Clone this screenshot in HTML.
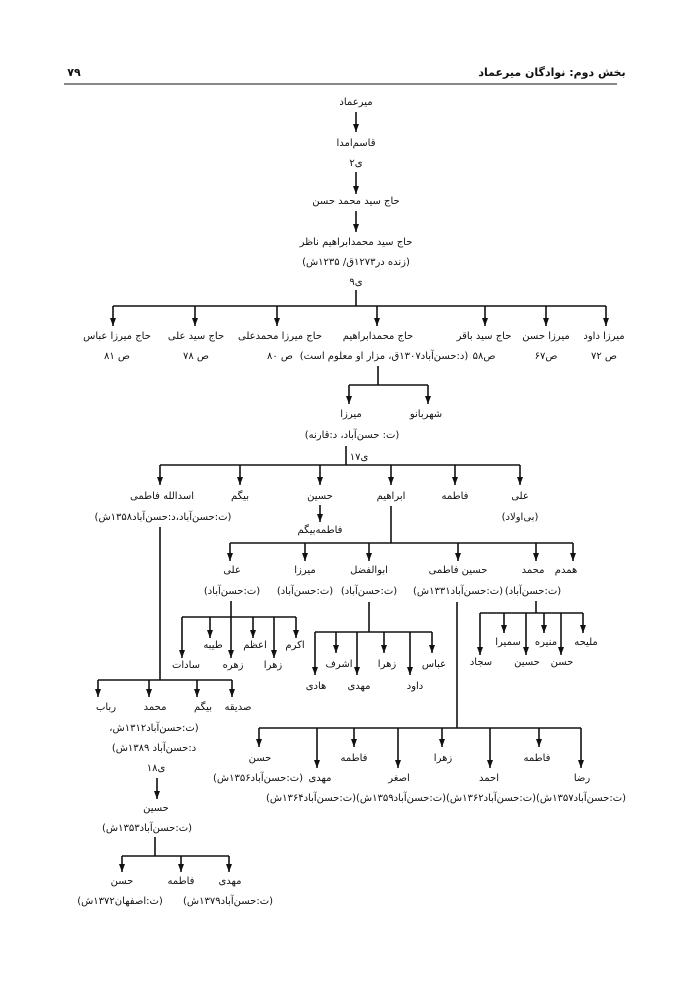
<!DOCTYPE html>
<html><head><meta charset="utf-8">
<style>
html,body{margin:0;padding:0;background:#fff;}
svg{display:block;}
text{font-family:"DejaVu Sans","Noto Sans CJK SC",sans-serif;font-size:10px;fill:#111;text-anchor:middle;}
.h{font-size:11px;font-weight:bold;}
line{stroke:#111;stroke-width:1.6;}
</style></head><body>
<svg width="700" height="989" viewBox="0 0 700 989" xmlns="http://www.w3.org/2000/svg">
<defs>
<marker id="d" markerWidth="6" markerHeight="8" refX="3" refY="8" orient="0" markerUnits="userSpaceOnUse" viewBox="0 0 6 8">
<path d="M0,0 L6,0 L3,8 Z" fill="#111"/>
</marker>
</defs>

<!-- header -->
<text class="h" x="552" y="76" direction="rtl">بخش دوم: نوادگان میرعماد</text>
<text class="h" x="74" y="76">۷۹</text>
<line x1="64" y1="84" x2="617" y2="84" style="stroke-width:1"/>

<!-- top chain -->
<text x="356" y="105">میرعماد</text>
<line x1="356" y1="112" x2="356" y2="132" marker-end="url(#d)"/>
<text x="356" y="146">قاسم‌امدا</text>
<text x="356" y="166">ی۲</text>
<line x1="356" y1="172" x2="356" y2="194" marker-end="url(#d)"/>
<text x="356" y="204">حاج سید محمد حسن</text>
<line x1="356" y1="211" x2="356" y2="232" marker-end="url(#d)"/>
<text x="356" y="245">حاج سید محمدابراهیم ناظر</text>
<text x="356" y="265" direction="rtl">(زنده در۱۲۷۳ق/ ۱۲۳۵ش)</text>
<text x="356" y="285">ی۹</text>
<line x1="356" y1="290" x2="356" y2="306"/>

<!-- level 2 -->
<line x1="113" y1="306" x2="606" y2="306"/>
<line x1="113" y1="306" x2="113" y2="326" marker-end="url(#d)"/>
<line x1="195" y1="306" x2="195" y2="326" marker-end="url(#d)"/>
<line x1="277" y1="306" x2="277" y2="326" marker-end="url(#d)"/>
<line x1="377" y1="306" x2="377" y2="326" marker-end="url(#d)"/>
<line x1="485" y1="306" x2="485" y2="326" marker-end="url(#d)"/>
<line x1="546" y1="306" x2="546" y2="326" marker-end="url(#d)"/>
<line x1="606" y1="306" x2="606" y2="326" marker-end="url(#d)"/>
<text x="117" y="339">حاج میرزا عباس</text><text x="117" y="359">ص ۸۱</text>
<text x="196" y="339">حاج سید علی</text><text x="196" y="359">ص ۷۸</text>
<text x="280" y="339">حاج میرزا محمدعلی</text><text x="280" y="359">ص ۸۰</text>
<text x="378" y="339">حاج محمدابراهیم</text>
<text x="384" y="359" direction="rtl">(د:حسن‌آباد۱۳۰۷ق، مزار او معلوم است)</text>
<text x="484" y="339">حاج سید باقر</text><text x="484" y="359">ص۵۸</text>
<text x="546" y="339">میرزا حسن</text><text x="546" y="359">ص۶۷</text>
<text x="604" y="339">میرزا داود</text><text x="604" y="359">ص ۷۲</text>

<!-- level 3 -->
<line x1="378" y1="366" x2="378" y2="385"/>
<line x1="349" y1="385" x2="428" y2="385"/>
<line x1="349" y1="385" x2="349" y2="404" marker-end="url(#d)"/>
<line x1="428" y1="385" x2="428" y2="404" marker-end="url(#d)"/>
<text x="351" y="417">میرزا</text>
<text x="426" y="417">شهربانو</text>
<text x="352" y="438" direction="rtl">(ت: حسن‌آباد، د:قارنه)</text>
<line x1="346" y1="446" x2="346" y2="465"/>
<text x="359" y="460">ی۱۷</text>

<!-- level 4 -->
<line x1="160" y1="465" x2="520" y2="465"/>
<line x1="160" y1="465" x2="160" y2="485" marker-end="url(#d)"/>
<line x1="240" y1="465" x2="240" y2="485" marker-end="url(#d)"/>
<line x1="320" y1="465" x2="320" y2="485" marker-end="url(#d)"/>
<line x1="391" y1="465" x2="391" y2="485" marker-end="url(#d)"/>
<line x1="455" y1="465" x2="455" y2="485" marker-end="url(#d)"/>
<line x1="520" y1="465" x2="520" y2="485" marker-end="url(#d)"/>
<text x="162" y="499">اسدالله فاطمی</text>
<text x="163" y="520" direction="rtl">(ت:حسن‌آباد،د:حسن‌آباد۱۳۵۸ش)</text>
<text x="240" y="499">بیگم</text>
<text x="320" y="499">حسین</text>
<line x1="320" y1="505" x2="320" y2="522" marker-end="url(#d)"/>
<text x="320" y="533">فاطمه‌بیگم</text>
<text x="391" y="499">ابراهیم</text>
<text x="455" y="499">فاطمه</text>
<text x="520" y="499">علی</text>
<text x="520" y="520" direction="rtl">(بی‌اولاد)</text>

<!-- ابراهیم children -->
<line x1="391" y1="506" x2="391" y2="543"/>
<line x1="230" y1="543" x2="573" y2="543"/>
<line x1="230" y1="543" x2="230" y2="561" marker-end="url(#d)"/>
<line x1="305" y1="543" x2="305" y2="561" marker-end="url(#d)"/>
<line x1="369" y1="543" x2="369" y2="561" marker-end="url(#d)"/>
<line x1="458" y1="543" x2="458" y2="561" marker-end="url(#d)"/>
<line x1="536" y1="543" x2="536" y2="561" marker-end="url(#d)"/>
<line x1="573" y1="543" x2="573" y2="561" marker-end="url(#d)"/>
<text x="232" y="573">علی</text>
<text x="232" y="594" direction="rtl">(ت:حسن‌آباد)</text>
<text x="305" y="573">میرزا</text>
<text x="305" y="594" direction="rtl">(ت:حسن‌آباد)</text>
<text x="369" y="573">ابوالفضل</text>
<text x="369" y="594" direction="rtl">(ت:حسن‌آباد)</text>
<text x="458" y="573">حسین فاطمی</text>
<text x="458" y="594" direction="rtl">(ت:حسن‌آباد۱۳۳۱ش)</text>
<text x="533" y="573">محمد</text>
<text x="533" y="594" direction="rtl">(ت:حسن‌آباد)</text>
<text x="566" y="573">همدم</text>

<!-- علی subtree -->
<line x1="231" y1="601" x2="231" y2="617"/>
<line x1="182" y1="617" x2="296" y2="617"/>
<line x1="182" y1="617" x2="182" y2="658" marker-end="url(#d)"/>
<line x1="210" y1="617" x2="210" y2="638" marker-end="url(#d)"/>
<line x1="231" y1="617" x2="231" y2="658" marker-end="url(#d)"/>
<line x1="253" y1="617" x2="253" y2="638" marker-end="url(#d)"/>
<line x1="274" y1="617" x2="274" y2="658" marker-end="url(#d)"/>
<line x1="296" y1="617" x2="296" y2="638" marker-end="url(#d)"/>
<text x="213" y="648">طیبه</text>
<text x="255" y="648">اعظم</text>
<text x="295" y="648">اکرم</text>
<text x="186" y="668">سادات</text>
<text x="233" y="668">زهره</text>
<text x="273" y="668">زهرا</text>

<!-- ابوالفضل subtree -->
<line x1="369" y1="602" x2="369" y2="632"/>
<line x1="315" y1="632" x2="432" y2="632"/>
<line x1="315" y1="632" x2="315" y2="675" marker-end="url(#d)"/>
<line x1="336" y1="632" x2="336" y2="653" marker-end="url(#d)"/>
<line x1="357" y1="632" x2="357" y2="675" marker-end="url(#d)"/>
<line x1="384" y1="632" x2="384" y2="653" marker-end="url(#d)"/>
<line x1="410" y1="632" x2="410" y2="675" marker-end="url(#d)"/>
<line x1="432" y1="632" x2="432" y2="653" marker-end="url(#d)"/>
<text x="339" y="667">اشرف</text>
<text x="387" y="667">زهرا</text>
<text x="434" y="667">عباس</text>
<text x="316" y="689">هادی</text>
<text x="359" y="689">مهدی</text>
<text x="415" y="689">داود</text>

<!-- محمد subtree -->
<line x1="536" y1="601" x2="536" y2="613"/>
<line x1="480" y1="613" x2="583" y2="613"/>
<line x1="480" y1="613" x2="480" y2="655" marker-end="url(#d)"/>
<line x1="504" y1="613" x2="504" y2="633" marker-end="url(#d)"/>
<line x1="526" y1="613" x2="526" y2="655" marker-end="url(#d)"/>
<line x1="544" y1="613" x2="544" y2="633" marker-end="url(#d)"/>
<line x1="561" y1="613" x2="561" y2="655" marker-end="url(#d)"/>
<line x1="583" y1="613" x2="583" y2="633" marker-end="url(#d)"/>
<text x="508" y="645">سمیرا</text>
<text x="546" y="645">منیره</text>
<text x="586" y="645">ملیحه</text>
<text x="481" y="665">سجاد</text>
<text x="527" y="665">حسین</text>
<text x="562" y="665">حسن</text>

<!-- حسین فاطمی subtree -->
<line x1="457" y1="602" x2="457" y2="728"/>
<line x1="259" y1="728" x2="581" y2="728"/>
<line x1="259" y1="728" x2="259" y2="747" marker-end="url(#d)"/>
<line x1="317" y1="728" x2="317" y2="768" marker-end="url(#d)"/>
<line x1="354" y1="728" x2="354" y2="747" marker-end="url(#d)"/>
<line x1="398" y1="728" x2="398" y2="768" marker-end="url(#d)"/>
<line x1="442" y1="728" x2="442" y2="747" marker-end="url(#d)"/>
<line x1="490" y1="728" x2="490" y2="768" marker-end="url(#d)"/>
<line x1="539" y1="728" x2="539" y2="747" marker-end="url(#d)"/>
<line x1="581" y1="728" x2="581" y2="768" marker-end="url(#d)"/>
<text x="260" y="761">حسن</text>
<text x="354" y="761">فاطمه</text>
<text x="443" y="761">زهرا</text>
<text x="537" y="761">فاطمه</text>
<text x="258" y="781" direction="rtl">(ت:حسن‌آباد۱۳۵۶ش)</text>
<text x="320" y="781">مهدی</text>
<text x="399" y="781">اصغر</text>
<text x="489" y="781">احمد</text>
<text x="582" y="781">رضا</text>
<text x="311" y="801" direction="rtl">(ت:حسن‌آباد۱۳۶۴ش)</text>
<text x="401" y="801" direction="rtl">(ت:حسن‌آباد۱۳۵۹ش)</text>
<text x="491" y="801" direction="rtl">(ت:حسن‌آباد۱۳۶۲ش)</text>
<text x="581" y="801" direction="rtl">(ت:حسن‌آباد۱۳۵۷ش)</text>

<!-- اسدالله subtree -->
<line x1="160" y1="527" x2="160" y2="680"/>
<line x1="98" y1="680" x2="232" y2="680"/>
<line x1="98" y1="680" x2="98" y2="697" marker-end="url(#d)"/>
<line x1="149" y1="680" x2="149" y2="697" marker-end="url(#d)"/>
<line x1="197" y1="680" x2="197" y2="697" marker-end="url(#d)"/>
<line x1="232" y1="680" x2="232" y2="697" marker-end="url(#d)"/>
<text x="106" y="710">رباب</text>
<text x="155" y="710">محمد</text>
<text x="203" y="710">بیگم</text>
<text x="238" y="710">صدیقه</text>
<text x="154" y="731" direction="rtl">(ت:حسن‌آباد۱۳۱۲ش،</text>
<text x="154" y="751" direction="rtl">د:حسن‌آباد ۱۳۸۹ش)</text>
<text x="156" y="771">ی۱۸</text>
<line x1="157" y1="778" x2="157" y2="799" marker-end="url(#d)"/>
<text x="156" y="811">حسین</text>
<text x="147" y="831" direction="rtl">(ت:حسن‌آباد۱۳۵۳ش)</text>
<line x1="155" y1="837" x2="155" y2="856"/>
<line x1="122" y1="856" x2="229" y2="856"/>
<line x1="122" y1="856" x2="122" y2="872" marker-end="url(#d)"/>
<line x1="181" y1="856" x2="181" y2="872" marker-end="url(#d)"/>
<line x1="229" y1="856" x2="229" y2="872" marker-end="url(#d)"/>
<text x="122" y="884">حسن</text>
<text x="181" y="884">فاطمه</text>
<text x="230" y="884">مهدی</text>
<text x="120" y="904" direction="rtl">(ت:اصفهان۱۳۷۲ش)</text>
<text x="228" y="904" direction="rtl">(ت:حسن‌آباد۱۳۷۹ش)</text>
</svg>
</body></html>
